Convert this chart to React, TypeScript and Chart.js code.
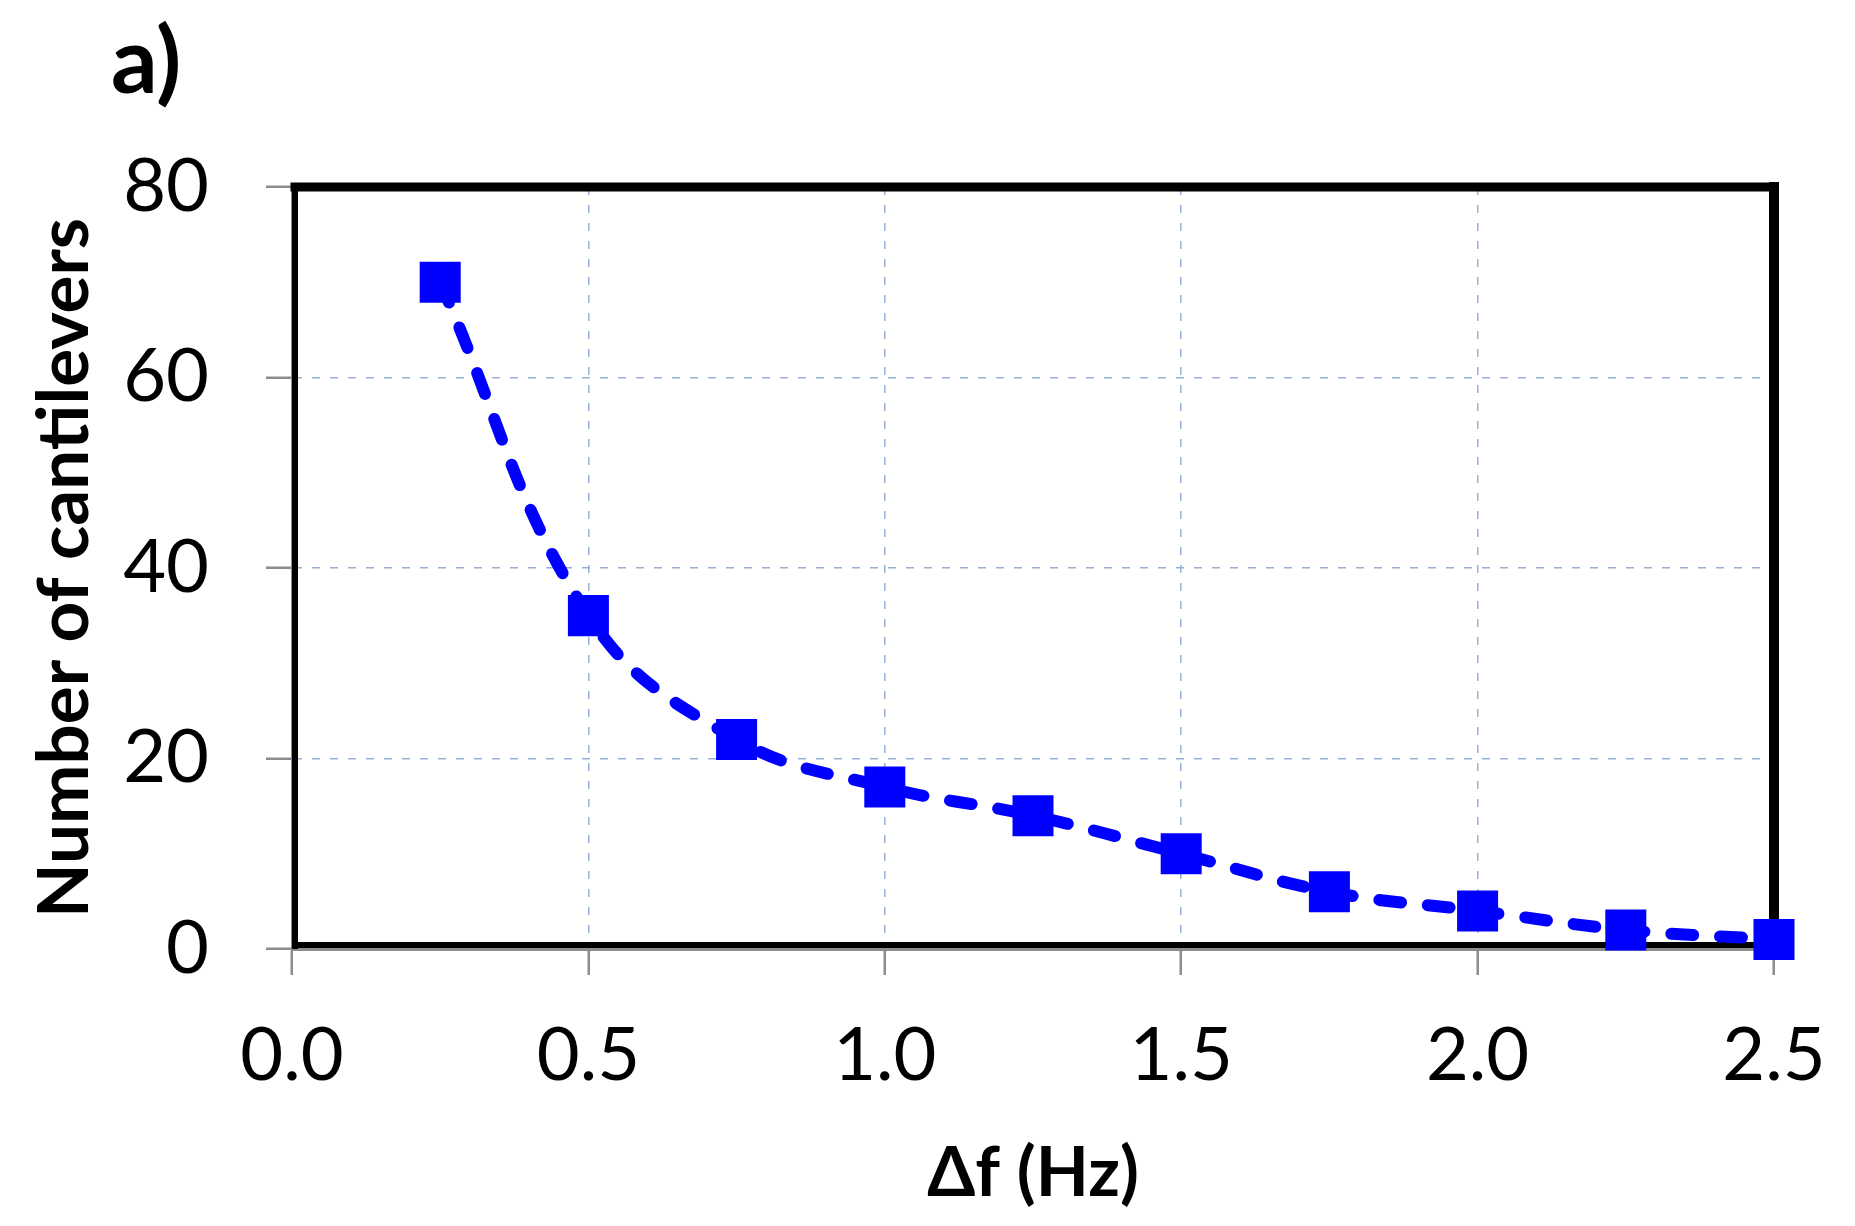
import React, { useEffect, useRef } from "react";
import { Chart, registerables } from "chart.js";

Chart.register(...registerables);

const deltaF = [0.25, 0.5, 0.75, 1.0, 1.25, 1.5, 1.75, 2.0, 2.25, 2.5];
const cantilevers = [70, 35, 22, 17, 14, 10, 6, 4, 2, 1];
const xTicks = [0, 0.5, 1.0, 1.5, 2.0, 2.5];
const yTicks = [0, 20, 40, 60, 80];
const panelLabel = "a)";
const xTitle = "Δf (Hz)";
const yTitle = "Number of cantilevers";

const W = 1855;
const H = 1226;

const boxPlugin = {
  id: "boxPlugin",
  beforeDatasetsDraw(chart: any) {
    const { ctx, chartArea } = chart;
    const { left, right, top, bottom } = chartArea;
    ctx.save();
    ctx.strokeStyle = "#000000";
    ctx.lineCap = "square";
    // top
    ctx.lineWidth = 9;
    ctx.beginPath();
    ctx.moveTo(left + 3, top);
    ctx.lineTo(right, top);
    ctx.stroke();
    // right
    ctx.lineWidth = 10;
    ctx.beginPath();
    ctx.moveTo(right, top);
    ctx.lineTo(right, bottom - 3);
    ctx.stroke();
    // left
    ctx.lineWidth = 6;
    ctx.lineCap = "butt";
    ctx.beginPath();
    ctx.moveTo(left + 3, top - 4);
    ctx.lineTo(left + 3, bottom);
    ctx.stroke();
    // bottom
    ctx.beginPath();
    ctx.moveTo(left, bottom - 4);
    ctx.lineTo(right + 5, bottom - 4);
    ctx.stroke();
    ctx.restore();
  },
  afterDraw(chart: any) {
    const { ctx } = chart;
    ctx.save();
    ctx.fillStyle = "#000000";
    ctx.font = "bold 92px Lato";
    ctx.textBaseline = "alphabetic";
    ctx.textAlign = "left";
    ctx.fillText(panelLabel, 111, 93);
    ctx.restore();
  },
};

export default function App() {
  const ref = useRef<HTMLCanvasElement | null>(null);
  useEffect(() => {
    if (!ref.current) return;
    Chart.defaults.font.family = "Lato";
    Chart.defaults.color = "#000000";
    const chart = new Chart(ref.current, {
      type: "line",
      data: {
        datasets: [
          {
            data: deltaF.map((x, i) => ({ x, y: cantilevers[i] })),
            borderColor: "#0000ff",
            backgroundColor: "#0000ff",
            borderWidth: 12,
            borderDash: [22, 27],
            borderCapStyle: "round",
            tension: 0.4,
            pointStyle: "rect",
            pointRadius: 29,
            pointBorderWidth: 0,
            pointBackgroundColor: "#0000ff",
            clip: false,
          } as any,
        ],
      },
      options: {
        animation: false,
        responsive: false,
        devicePixelRatio: 1,
        layout: { padding: { top: 187, right: 81, left: 0, bottom: 0 } },
        plugins: {
          legend: { display: false },
          tooltip: { enabled: false },
        },
        scales: {
          x: {
            type: "linear",
            min: 0,
            max: 2.5,
            afterBuildTicks: (scale: any) => {
              scale.ticks = xTicks.map((v) => ({ value: v }));
            },
            afterFit: (scale: any) => {
              scale.height = 277;
              scale.paddingLeft = 0;
              scale.paddingRight = 0;
            },
            ticks: {
              font: { size: 74 },
              padding: 37,
              color: "#000000",
              maxRotation: 0,
              callback: (v: any) => Number(v).toFixed(1),
            },
            grid: {
              color: "#97b0d4",
              lineWidth: 1.5,
              tickLength: 26,
              tickColor: "#8c8c8c",
              tickWidth: 2.5,
              tickBorderDash: [],
            },
            border: { display: true, color: "#8c8c8c", width: 3, dash: [8, 10] },
            title: {
              display: true,
              text: xTitle,
              font: { size: 69, weight: "bold" },
              padding: { top: 0, bottom: 11 },
              color: "#000000",
            },
          },
          y: {
            type: "linear",
            min: 0,
            max: 80,
            afterBuildTicks: (scale: any) => {
              scale.ticks = yTicks.map((v) => ({ value: v }));
            },
            afterFit: (scale: any) => {
              scale.width = 292;
              scale.paddingTop = 0;
              scale.paddingBottom = 0;
            },
            ticks: {
              font: { size: 74 },
              padding: 57,
              color: "#000000",
            },
            grid: {
              color: "#97b0d4",
              lineWidth: 1.5,
              tickLength: 26,
              tickColor: "#8c8c8c",
              tickWidth: 2.5,
              tickBorderDash: [],
            },
            border: { display: true, color: "#8c8c8c", width: 3, dash: [8, 10] },
            title: {
              display: true,
              text: yTitle,
              font: { size: 71, weight: "bold" },
              padding: { top: 23, bottom: 0 },
              color: "#000000",
            },
          },
        },
      } as any,
      plugins: [boxPlugin],
    });
    return () => chart.destroy();
  }, []);
  return (
    <div style={{ position: "absolute", left: 0, top: 0, width: W, height: H, background: "#ffffff" }}>
      <canvas ref={ref} width={W} height={H} style={{ width: W, height: H, display: "block" }} />
    </div>
  );
}
